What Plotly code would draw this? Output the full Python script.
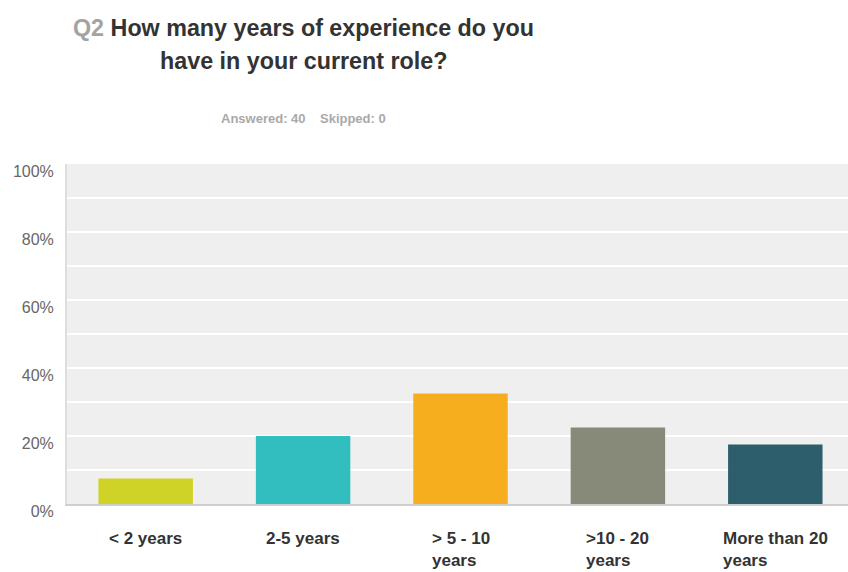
import plotly.graph_objects as go

categories = ["< 2 years", "2-5 years", "> 5 - 10<br>years", ">10 - 20<br>years", "More than 20<br>years"]
values = [7.5, 20.0, 32.5, 22.5, 17.5]
colors = ["#cfd327", "#32bdbe", "#f6ad1e", "#878a78", "#2d5e6b"]
ytick_vals = [0, 20, 40, 60, 80, 100]
ytick_text = ["0%", "20%", "40%", "60%", "80%", "100%"]
title_q = "Q2"
title_line1 = "How many years of experience do you"
title_line2 = "have in your current role?"
subtitle = "Answered: 40&nbsp;&nbsp;&nbsp;&nbsp;Skipped: 0"

FONT = "Liberation Sans, Arial, sans-serif"

fig = go.Figure()
fig.add_trace(go.Bar(
    x=list(range(len(categories))), y=values,
    marker=dict(color=colors, line=dict(width=0)),
    hoverinfo="skip",
))

W, H = 848, 572
ml, mt, mb = 67, 164, 68
ph = H - mt - mb

def py(ypx):
    return (H - mb - ypx) / ph

annotations = [
    dict(text=f"<b><span style='color:#a3a3a3'>{title_q}</span> {title_line1}</b>",
         x=(303 - ml) / (W - ml), y=py(28), xref="paper", yref="paper",
         xanchor="center", yanchor="middle", showarrow=False,
         font=dict(family=FONT, size=23.3, color="#333333")),
    dict(text=f"<b>{title_line2}</b>",
         x=(303 - ml) / (W - ml), y=py(61), xref="paper", yref="paper",
         xanchor="center", yanchor="middle", showarrow=False,
         font=dict(family=FONT, size=23.3, color="#333333")),
    dict(text=f"<b>{subtitle}</b>",
         x=(303 - ml) / (W - ml), y=py(118), xref="paper", yref="paper",
         xanchor="center", yanchor="middle", showarrow=False,
         font=dict(family=FONT, size=13, color="#a9a9a9")),
]
for i, c in enumerate(categories):
    annotations.append(dict(
        text=f"<b>{c}</b>", x=i, y=py(527), xref="x", yref="paper",
        xanchor="center", yanchor="top", align="left", showarrow=False,
        font=dict(family=FONT, size=17, color="#333333")))

fig.update_layout(
    width=W, height=H,
    margin=dict(l=ml, r=0, t=mt, b=mb, pad=0),
    paper_bgcolor="white", plot_bgcolor="#efefef",
    showlegend=False, bargap=0.4,
    font=dict(family=FONT),
    annotations=annotations,
    xaxis=dict(range=[-0.5, -0.5 + (W - ml) / 157.4], showticklabels=False,
               showgrid=False, zeroline=False, showline=True,
               linecolor="#cfcfcf", linewidth=2, fixedrange=True),
    yaxis=dict(range=[0, 100], tickvals=ytick_vals, ticktext=ytick_text,
               showgrid=True, gridcolor="white", gridwidth=2,
               minor=dict(dtick=10, showgrid=True, gridcolor="white", gridwidth=2),
               zeroline=False, showline=True, linecolor="#dddddd", linewidth=2,
               ticks="", ticklabelstandoff=8, ticklabelshift=7,
               tickfont=dict(family=FONT, size=16, color="#666666"),
               fixedrange=True),
)

fig.write_html("out.html",
               config={"displayModeBar": False, "staticPlot": True},
               post_script="document.body.style.margin='0';document.body.style.overflow='hidden';")
